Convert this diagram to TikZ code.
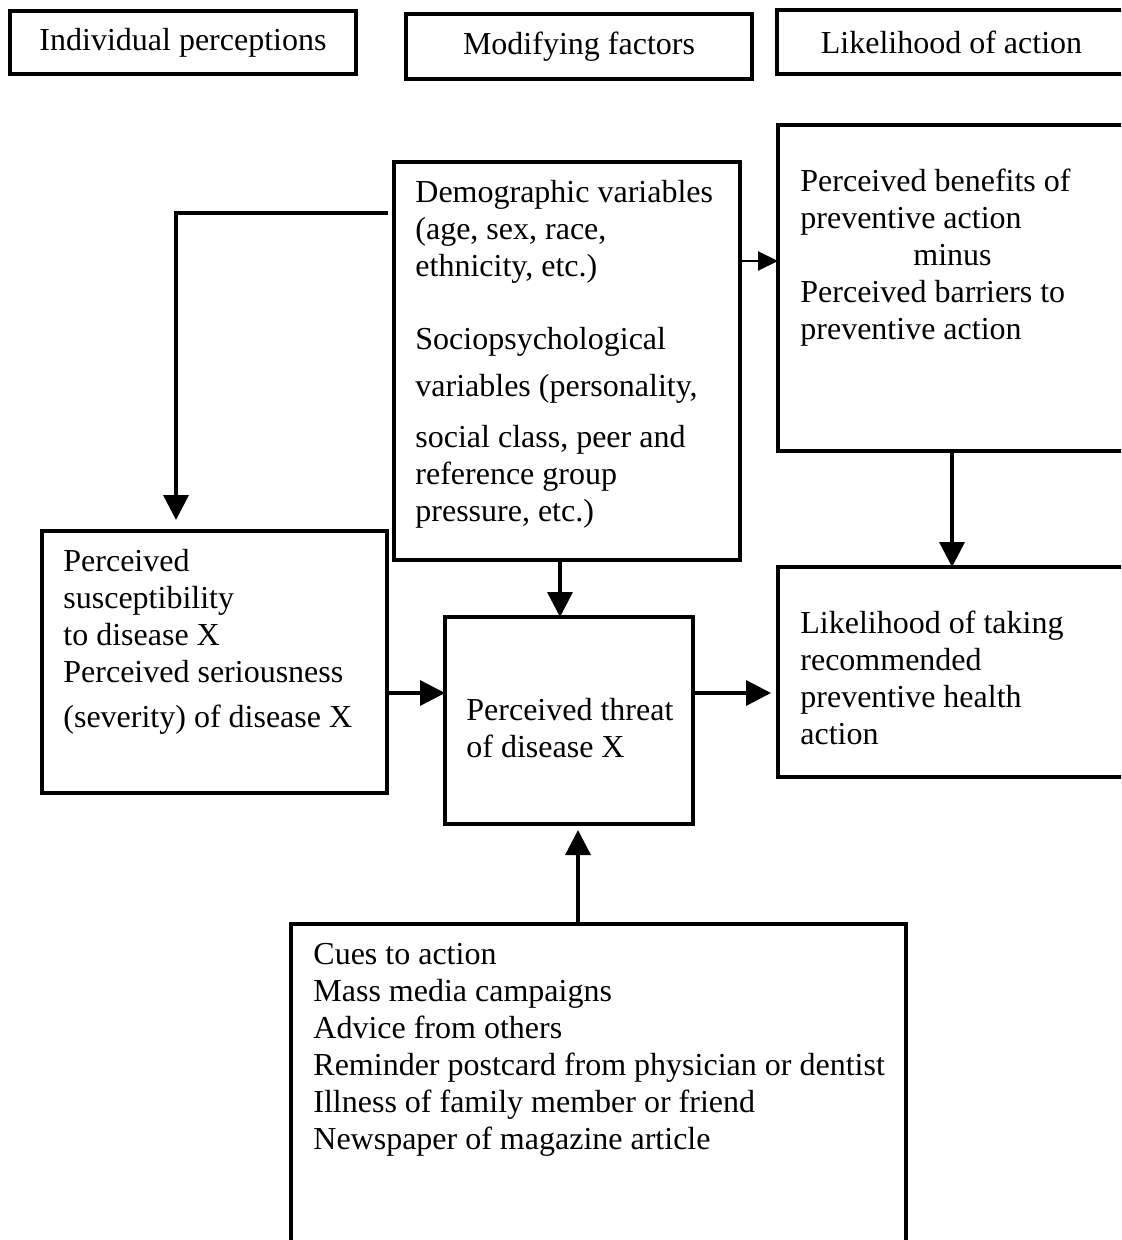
\documentclass[tikz,border=0pt]{standalone}
\usepackage{fontspec}
\setmainfont{Liberation Serif}
\usetikzlibrary{positioning,arrows.meta,fit,calc}
\newcommand{\hbfont}{\fontsize{16}{18.5}\selectfont}
\tikzset{
  hbbox/.style={rectangle, draw=black, line width=1.7pt, inner sep=0pt, outer sep=0pt},
  hbhead/.style={hbbox, font=\hbfont, align=center},
  hbtext/.style={anchor=north west, inner sep=0pt, align=left, font=\hbfont},
  hbarrow/.style={-{Triangle[length=12.5pt,width=12.5pt]}, line width=1.7pt},
  hbthinarr/.style={-{Triangle[length=10pt,width=9.5pt]}, line width=1pt},
}

\begin{document}
\begin{tikzpicture}[x=0.5pt,y=-0.5pt]
  \useasboundingbox (0,0) rectangle (1121,1240);
  \clip (0,0) rectangle (1121,1240);

  \node[hbhead,minimum width=173pt,minimum height=31.5pt] (perc) at (183,42.5)
    {Individual perceptions};
  \node[hbhead,minimum width=173pt,minimum height=32.5pt] (modf) at (579,46.5)
    {Modifying factors};
  \node[hbhead,minimum width=174.5pt,minimum height=32pt] (lkhd) at (951.5,42)
    {Likelihood of action};

  \node[hbbox,fit={(394,162)(740,560)}] (demo) {};
  \node[hbtext] (demotxt) at (415,176)
    {\strut Demographic variables\\(age, sex, race,\\ethnicity, etc.)\\[18pt]
     Sociopsychological\\[5pt]variables (personality,\\[7pt]social class, peer and\\
     reference group\\pressure, etc.)};

  \node[hbbox,fit={(778,125)(1126,451)}] (bnft) {};
  \node[hbtext] (bnfttxt) at (800,165)
    {\strut Perceived benefits of\\preventive action\\\hspace*{56.5pt}minus\\
     Perceived barriers to\\preventive action};

  \node[hbbox,fit={(42,531)(387,793)}] (susc) {};
  \node[hbtext] (susctxt) at (63,545)
    {\strut Perceived\\susceptibility\\to disease X\\Perceived seriousness\\[4pt]
     (severity) of disease X};

  \node[hbbox,fit={(445,617)(693,824)}] (thrt) {};
  \node[hbtext] (thrttxt) at (466,694)
    {\strut Perceived threat\\of disease X};

  \node[hbbox,fit={(778,567)(1126,777)}] (take) {};
  \node[hbtext] (taketxt) at (800,607)
    {\strut Likelihood of taking\\recommended\\preventive health\\action};

  \node[hbbox,fit={(291,924)(906,1260)}] (cues) {};
  \node[hbtext] (cuestxt) at (313,938)
    {\strut Cues to action\\Mass media campaigns\\Advice from others\\
     Reminder postcard from physician or dentist\\
     Illness of family member or friend\\Newspaper of magazine article};

  \draw[hbarrow] ($(demo.north west)+(-6,51)$) -| ($(susc.north west)+(134,-11)$);
  \draw[hbthinarr] ($(demo.north east)+(0,99)$) coordinate (d2b) -- (d2b -| bnft.west);
  \draw[hbarrow] ($(demo.south west)+(166,0)$) coordinate (d2t) -- (d2t |- thrt.north);
  \draw[hbarrow] (bnft.south) -- (bnft.south |- take.north);
  \draw[hbarrow] ($(susc.north east)+(0,162)$) coordinate (s2t) -- (s2t -| thrt.west);
  \draw[hbarrow] ($(thrt.north east)+(0,76)$) coordinate (t2l)
    -- ($(t2l -| take.west)+(-7,0)$);
  \draw[hbarrow] ($(cues.north west)+(287,0)$) coordinate (c2t)
    -- ($(c2t |- thrt.south)+(0,6)$);
\end{tikzpicture}
\end{document}
